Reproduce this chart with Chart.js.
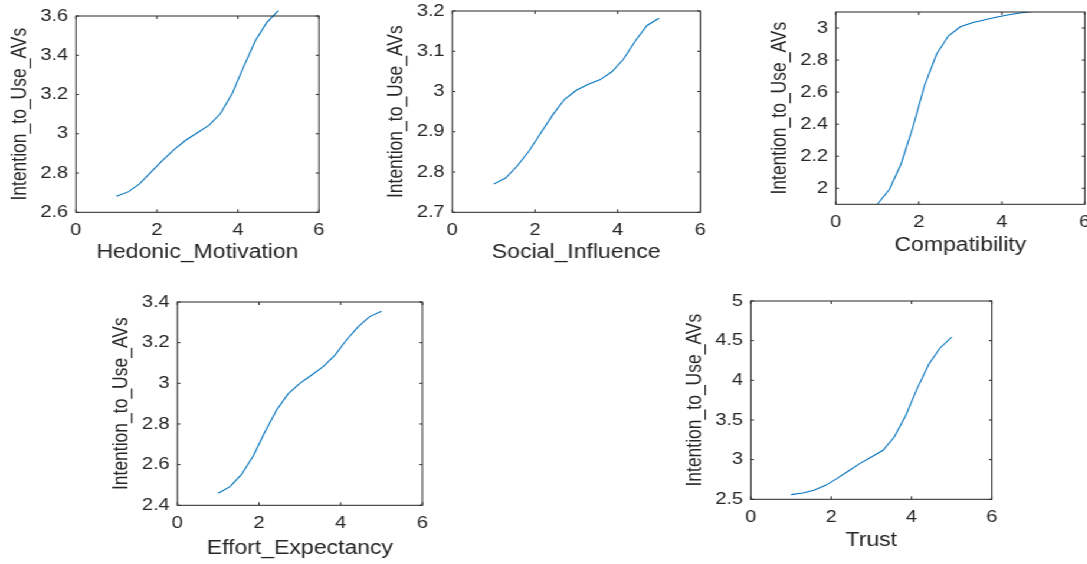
<!DOCTYPE html>
<html>
<head>
<meta charset="utf-8">
<script src="https://cdn.jsdelivr.net/npm/chart.js@4.4.1/dist/chart.umd.min.js"></script>
<style>
  html, body { margin: 0; padding: 0; background: #fff; overflow: hidden; width: 1087px; height: 564px; }
  #stage { position: absolute; left: 0; top: 0; width: 1000px; height: 564px; transform-origin: 0 0; }
  .panel { position: absolute; }
</style>
</head>
<body>
<div id="stage"></div>
<script>
// partial dependence curves, 5 predictors vs Intention_to_Use_AVs
const xValues = [1, 1.29, 1.57, 1.86, 2.14, 2.43, 2.71, 3, 3.29, 3.57, 3.86, 4.14, 4.43, 4.71, 5];
const xTicks = [0, 2, 4, 6];
const yTitle = 'Intention_to_Use_AVs';

const hedonicY = [2.682, 2.704, 2.745, 2.806, 2.865, 2.921, 2.967, 3.005, 3.044, 3.103, 3.205, 3.341, 3.474, 3.566, 3.627];
const hedonicTicks = [2.6, 2.8, 3, 3.2, 3.4, 3.6];

const socialY = [2.770, 2.785, 2.815, 2.853, 2.897, 2.942, 2.980, 3.003, 3.018, 3.029, 3.049, 3.080, 3.126, 3.164, 3.182];
const socialTicks = [2.7, 2.8, 2.9, 3, 3.1, 3.2];

const compatY = [1.90, 1.992, 2.15, 2.383, 2.644, 2.838, 2.95, 3.008, 3.033, 3.05, 3.067, 3.081, 3.094, 3.102, 3.108];
const compatTicks = [2, 2.2, 2.4, 2.6, 2.8, 3];

const effortY = [2.459, 2.492, 2.552, 2.644, 2.759, 2.869, 2.948, 3.0, 3.041, 3.082, 3.139, 3.213, 3.279, 3.328, 3.354];
const effortTicks = [2.4, 2.6, 2.8, 3, 3.2, 3.4];

const trustY = [2.559, 2.580, 2.613, 2.676, 2.760, 2.857, 2.950, 3.034, 3.118, 3.286, 3.559, 3.895, 4.202, 4.408, 4.546];
const trustTicks = [2.5, 3, 3.5, 4, 4.5, 5];

// the source figure is stretched sideways, so the whole stage is too
const S = 1.18;
const FONT = '"Liberation Sans", Arial, Helvetica, sans-serif';
const INK = '#262626';
const LINE = '#0072BD';

// box = plot area in page pixels [left, top, right, bottom]
const panels = [
  { xTitle: 'Hedonic_Motivation', ys: hedonicY, yTicks: hedonicTicks, yMin: 2.6, yMax: 3.6, box: [76, 16, 319, 212], gap: 40, clip: false },
  { xTitle: 'Social_Influence', ys: socialY, yTicks: socialTicks, yMin: 2.7, yMax: 3.2, box: [452, 11, 700, 212], gap: 40, clip: true },
  { xTitle: 'Compatibility', ys: compatY, yTicks: compatTicks, yMin: 1.9, yMax: 3.1, box: [836, 12, 1085, 204], gap: 41, clip: true },
  { xTitle: 'Effort_Expectancy', ys: effortY, yTicks: effortTicks, yMin: 2.4, yMax: 3.4, box: [177, 302, 422, 505], gap: 43, clip: true },
  { xTitle: 'Trust', ys: trustY, yTicks: trustTicks, yMin: 2.5, yMax: 5, box: [751, 301, 992, 499], gap: 41, clip: true }
];

// matlab-ish box with inward ticks on all four sides
const boxTicks = {
  id: 'boxTicks',
  afterDraw(chart) {
    const { ctx, chartArea: a, scales: { x, y } } = chart;
    ctx.save();
    ctx.strokeStyle = INK;
    ctx.lineWidth = 1;
    ctx.strokeRect(a.left, a.top, a.right - a.left, a.bottom - a.top);
    ctx.beginPath();
    x.ticks.forEach(t => {
      const px = x.getPixelForValue(t.value);
      ctx.moveTo(px, a.bottom); ctx.lineTo(px, a.bottom - 3);
      ctx.moveTo(px, a.top); ctx.lineTo(px, a.top + 3);
    });
    y.ticks.forEach(t => {
      const py = y.getPixelForValue(t.value);
      ctx.moveTo(a.left, py); ctx.lineTo(a.left + 3 / S, py);
      ctx.moveTo(a.right, py); ctx.lineTo(a.right - 3 / S, py);
    });
    ctx.stroke();
    ctx.restore();
  }
};

const stage = document.getElementById('stage');
stage.style.transform = `scaleX(${S})`;

const fmt = v => String(Math.round(v * 100) / 100);

panels.forEach(p => {
  const [x0, y0, x1, y1] = p.box;
  const yAxisW = 70 / S;
  const padTop = 20;
  const xAxisH = p.gap + 11.7;
  const W = Math.ceil(yAxisW + (x1 - x0) / S + 22);
  const padRight = W - yAxisW - (x1 - x0) / S;
  const H = Math.round(padTop + (y1 - y0) + xAxisH);

  const wrap = document.createElement('div');
  wrap.className = 'panel';
  wrap.style.left = (x0 / S - yAxisW) + 'px';
  wrap.style.top = (y0 - padTop) + 'px';
  const canvas = document.createElement('canvas');
  canvas.width = W;
  canvas.height = H;
  wrap.appendChild(canvas);
  stage.appendChild(wrap);

  new Chart(canvas.getContext('2d'), {
    type: 'line',
    data: {
      datasets: [{
        data: xValues.map((x, i) => ({ x, y: p.ys[i] })),
        borderColor: LINE,
        borderWidth: 1.1,
        pointRadius: 0,
        tension: 0,
        fill: false,
        clip: p.clip ? undefined : false
      }]
    },
    options: {
      responsive: false,
      animation: false,
      devicePixelRatio: 1,
      layout: { padding: { top: padTop, right: padRight, bottom: 0, left: 0 } },
      plugins: { legend: { display: false }, tooltip: { enabled: false } },
      scales: {
        x: {
          type: 'linear',
          min: 0,
          max: 6,
          afterBuildTicks: s => { s.ticks = xTicks.map(v => ({ value: v })); },
          afterFit: s => { s.height = xAxisH; },
          grid: { display: false, drawTicks: false },
          border: { display: false },
          ticks: { color: INK, font: { family: FONT, size: 17 }, padding: 8, maxRotation: 0, callback: fmt },
          title: { display: true, text: p.xTitle, color: INK, font: { family: FONT, size: 19.5 }, padding: { top: 0, bottom: 0 } }
        },
        y: {
          type: 'linear',
          min: p.yMin,
          max: p.yMax,
          afterBuildTicks: s => { s.ticks = p.yTicks.map(v => ({ value: v })); },
          afterFit: s => { s.width = yAxisW; },
          grid: { display: false, drawTicks: false },
          border: { display: false },
          ticks: { color: INK, font: { family: FONT, size: 17 }, padding: 6.5, callback: fmt },
          title: { display: true, text: yTitle, color: INK, font: { family: FONT, size: 17.5 }, padding: { top: 2, bottom: 0 } }
        }
      }
    },
    plugins: [boxTicks]
  });
});
</script>
</body>
</html>
